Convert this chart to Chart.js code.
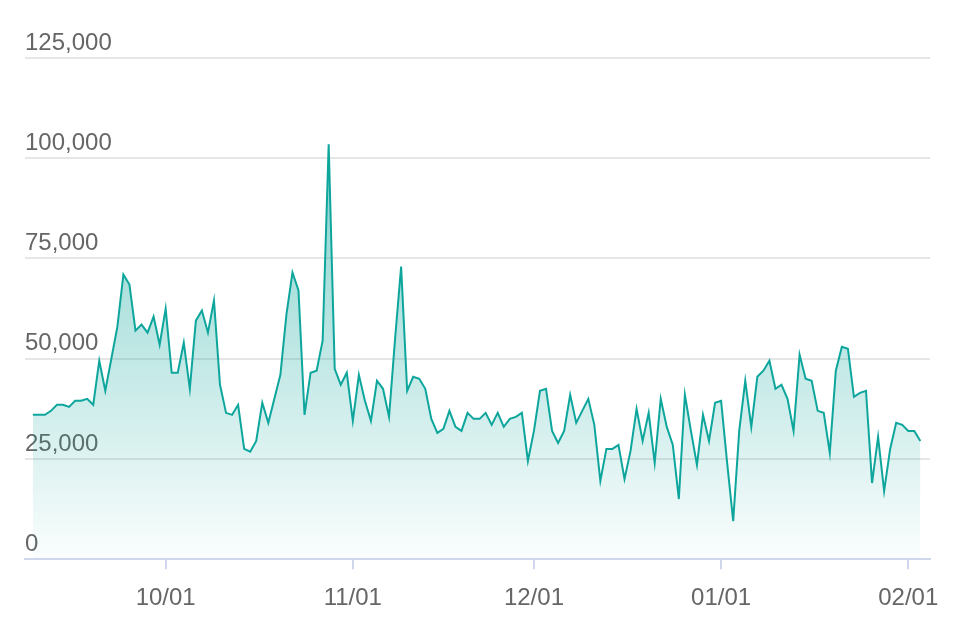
<!DOCTYPE html>
<html><head><meta charset="utf-8">
<script src="https://cdn.jsdelivr.net/npm/chart.js@4/dist/chart.umd.min.js"></script>
<style>html,body{margin:0;padding:0;background:#fff}#w{width:954px;height:644px}</style>
</head><body><div id="w"><canvas id="c"></canvas></div>
<script>
const startDate = "2023-09-09";
const values = [36000,36000,36000,37000,38500,38500,38000,39500,39500,40000,38500,49500,42000,50000,58000,71000,68500,57000,58500,56500,60500,53500,
62500,46500,46500,54000,42500,59500,62000,56500,64500,43500,36500,36000,38500,27500,26800,29500,39000,34000,40000,46000,61000,71500,67000,36000,46500,47000,54500,103500,47500,43500,46500,
34500,46000,39500,34500,44500,42500,35500,55000,73000,42000,45500,45000,42500,35000,31500,32500,37000,33000,32000,36500,35000,35000,36500,33500,36500,33000,35000,35500,36500,24500,
32000,42000,42500,32000,29000,32000,41000,34000,37000,40000,33500,19500,27500,27500,28500,20000,27000,37500,29500,36500,24000,40000,33000,28500,15000,41000,32000,23500,36000,29500,39000,
39500,24000,9500,32000,44500,33000,45500,47000,49500,42500,43500,40000,32000,51000,45000,44500,37000,36500,26500,47000,53000,52500,40500,41500,42000,19000,30500,17000,27500,34000,33500,
32000,32000,29500];
const tickIndex = [22,53,83,114,145];
const tickLabels = ["10/01","11/01","12/01","01/01","02/01"];
const yTicks = [0,25000,50000,75000,100000,125000];

const pts = values.map((v,i)=>({x:i,y:v}));
const ctx = document.getElementById('c').getContext('2d');
new Chart(ctx,{
  type:'line',
  data:{datasets:[{data:pts,borderColor:'#0ea69c',borderWidth:2,pointRadius:0,tension:0,fill:'origin',
    backgroundColor:(c)=>{const a=c.chart.chartArea;if(!a)return 'rgba(14,166,156,0.3)';
      const g=c.chart.ctx.createLinearGradient(0,a.top+90,0,a.bottom);
      g.addColorStop(0,'rgba(14,166,156,0.5)');g.addColorStop(1,'rgba(14,166,156,0.02)');return g;}}]},
  options:{responsive:true,maintainAspectRatio:false,animation:false,
    layout:{padding:{left:25,right:24,top:58,bottom:16}},
    plugins:{legend:{display:false},tooltip:{enabled:false}},
    scales:{
      x:{type:'linear',min:-1.3,max:148.6,
        afterBuildTicks:(s)=>{s.ticks=tickIndex.map(v=>({value:v}));},
        ticks:{autoSkip:false,maxRotation:0,color:'#666',font:{family:'Liberation Sans',size:24},padding:15,
          callback:(v)=>tickLabels[tickIndex.indexOf(v)]},
        grid:{drawOnChartArea:false,tickLength:10,color:'#d0d6ec',lineWidth:2},
        border:{color:'#d0d6ec',width:2}},
      y:{min:0,max:125000,
        afterBuildTicks:(s)=>{s.ticks=yTicks.map(v=>({value:v}));},
        ticks:{mirror:true,labelOffset:-15,padding:0,color:'#666',font:{family:'Liberation Sans',size:24},
          callback:(v)=>v.toLocaleString('en-US')},
        grid:{color:'#e6e6e6',lineWidth:2,drawTicks:false},
        border:{display:false}}
    }}
});
</script></body></html>
